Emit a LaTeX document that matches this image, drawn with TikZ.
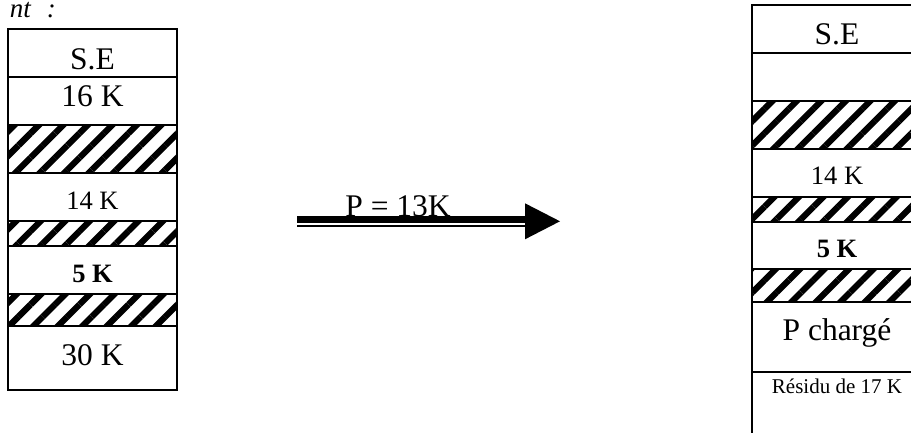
\documentclass[tikz,border=0pt]{standalone}
\usepackage{fontspec}
\setmainfont{Liberation Serif}
\usetikzlibrary{arrows.meta,patterns.meta}

\begin{document}
\begin{tikzpicture}[x=1pt,y=-1pt,line join=miter,
    cadre/.style={line width=1.3pt},
    hachure/.style={pattern={Lines[angle=45,distance=17.3pt,line width=6.2pt]}},
    grand/.style={anchor=base,font=\fontsize{31.5}{36}\selectfont},
    moyen/.style={anchor=base,font=\fontsize{26.5}{30}\selectfont},
    petit/.style={anchor=base,font=\fontsize{21}{24}\selectfont}]
    \clip (0,0) rectangle (911,433);

    % The caption, cut by the left border.
    \node[anchor=base east,inner sep=0pt,font=\fontsize{27}{30}\selectfont\itshape] (titre) at (56,18) {nt\hspace{16pt}:};

    % The memory before loading.
    \fill[hachure] (8,125) rectangle (177,173);
    \fill[hachure] (8,221) rectangle (177,246);
    \fill[hachure] (8,294) rectangle (177,326);
    \draw[cadre] (8,29) rectangle (177,390);
    \foreach \y in {77,125,173,221,246,294,326}
      \draw[cadre] (8,\y) -- (177,\y);
    \node[grand] (se1) at (92.5,70) {S.E};
    \node[grand] (libre1) at (92.5,107) {16 K};
    \node[moyen] (libre2) at (92.5,209) {14 K};
    \node[moyen] (libre3) at (92.5,282) {\bfseries 5 K};
    \node[grand] (libre4) at (92.5,365) {30 K};

    % The loading arrow, a thick bar over a thin one.
    \coordinate (depart) at (297,219.7);
    \coordinate (tige) at (526,219.7);
    \coordinate (pointe) at (560,221.3);
    \draw[line width=7.3pt] (depart) -- (tige);
    \draw[line width=2pt] (297,226) -- (526,226);
    \fill (525,203.3) -- (pointe) -- (525,239.3) -- cycle;
    \node[grand] (p) at (398,217) {P = 13K};

    % The memory after loading, cut by the right border.
    \fill[hachure] (752,101) rectangle (922,149);
    \fill[hachure] (752,197) rectangle (922,222);
    \fill[hachure] (752,269) rectangle (922,302);
    \draw[cadre] (752,433) |- (922,5) -- (922,433);
    \foreach \y in {53,101,149,197,222,269,302,372}
      \draw[cadre] (752,\y) -- (922,\y);
    \node[grand] (se2) at (837,45) {S.E};
    \node[moyen] (occ2) at (837,185) {14 K};
    \node[moyen] (occ3) at (837,257) {\bfseries 5 K};
    \node[grand] (charge) at (837,340) {P chargé};
    \node[petit] (residu) at (837,393) {Résidu de 17 K};
  \end{tikzpicture}
\end{document}
